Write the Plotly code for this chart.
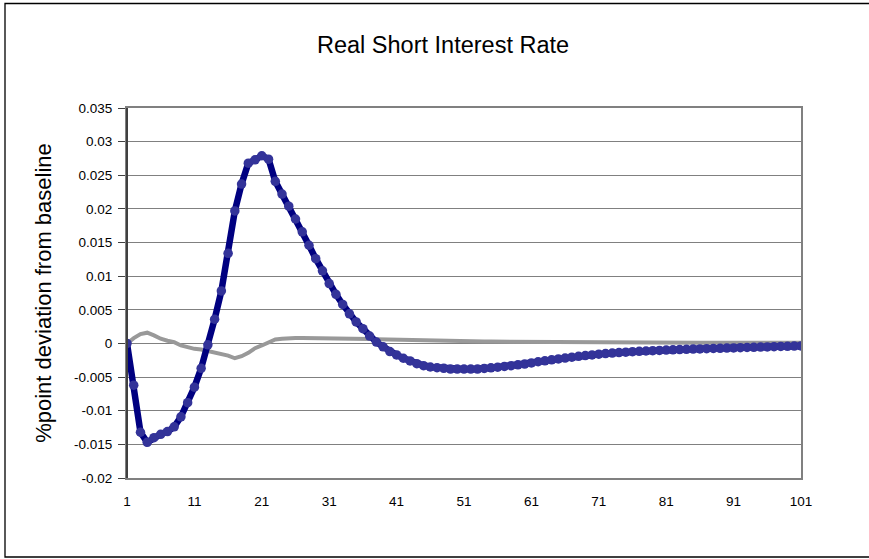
import plotly.graph_objects as go

periods = list(range(1, 102))

real_rate_main = [
    0.0, -0.0062, -0.0132, -0.0147, -0.0140, -0.0135, -0.0131, -0.0124, -0.0109, -0.0088,
    -0.0065, -0.0037, -0.0002, 0.0036, 0.0078, 0.0134, 0.0197, 0.0237, 0.0268, 0.0273,
    0.0279, 0.0274, 0.0241, 0.0222, 0.0204, 0.0185, 0.0166, 0.0146, 0.0126, 0.0108,
    0.0089, 0.0073, 0.0058, 0.0044, 0.0032, 0.0022, 0.0011, 0.0002, -0.0005, -0.0012,
    -0.0017, -0.0022, -0.0026, -0.0030, -0.0033, -0.0035, -0.0036, -0.0037, -0.0038, -0.0038,
    -0.0038, -0.0038, -0.0038, -0.00372, -0.00362, -0.00352, -0.00342, -0.00330, -0.00318, -0.00306,
    -0.0029, -0.00272, -0.00258, -0.00244, -0.0023, -0.00217, -0.00204, -0.00191, -0.0018, -0.0017,
    -0.0016, -0.00151, -0.00143, -0.00136, -0.00129, -0.00123, -0.00117, -0.00112, -0.00107, -0.00103,
    -0.00099, -0.00095, -0.00091, -0.00087, -0.00084, -0.00081, -0.00078, -0.00075, -0.00072, -0.00069,
    -0.00066, -0.00063, -0.0006, -0.00057, -0.00054, -0.00051, -0.00048, -0.00045, -0.00042, -0.00039,
    -0.00036,
]

real_rate_alt = [
    0.0, 0.0008, 0.0014, 0.0016, 0.0012, 0.0007, 0.0004, 0.0002, -0.0003, -0.0006,
    -0.0008, -0.0009, -0.0011, -0.0013, -0.0015, -0.0018, -0.0022, -0.0019, -0.0014, -0.0007,
    -0.0003, 0.0002, 0.0006, 0.0007, 0.0008, 0.0008, 0.0008, 0.0008, 0.0008, 0.0008,
    0.00078, 0.00076, 0.00074, 0.00072, 0.0007, 0.00068, 0.00066, 0.00063, 0.0006, 0.00057,
    0.00054, 0.00051, 0.00048, 0.00046, 0.00044, 0.00042, 0.0004, 0.00038, 0.00036, 0.00034,
    0.00032, 0.00031, 0.0003, 0.00029, 0.00028, 0.00027, 0.00026, 0.00025, 0.00024, 0.00023,
    0.00022, 0.00021, 0.0002, 0.0002, 0.00019, 0.00018, 0.00018, 0.00017, 0.00016, 0.00016,
    0.00015, 0.00015, 0.00014, 0.00014, 0.00013, 0.00013, 0.00012, 0.00012, 0.00012, 0.00011,
    0.00011, 0.00011, 0.0001, 0.0001, 0.0001, 0.0001, 0.0001, 0.0001, 0.0001, 0.0001,
    0.0001, 0.0001, 0.0001, 0.0001, 0.0001, 0.0001, 0.0001, 0.0001, 0.0001, 0.0001,
    0.0001,
]

x_tick_vals = [1, 11, 21, 31, 41, 51, 61, 71, 81, 91, 101]
y_tick_vals = [0.035, 0.03, 0.025, 0.02, 0.015, 0.01, 0.005, 0, -0.005, -0.01, -0.015, -0.02]
y_tick_text = ["0.035", "0.03", "0.025", "0.02", "0.015", "0.01", "0.005", "0",
               "-0.005", "-0.01", "-0.015", "-0.02"]

FONT = "Liberation Sans, Arial, sans-serif"

fig = go.Figure()
fig.add_trace(go.Scatter(
    x=periods, y=real_rate_alt, mode="lines",
    line=dict(color="#999999", width=4), showlegend=False,
))
fig.add_trace(go.Scatter(
    x=periods, y=real_rate_main, mode="lines+markers",
    line=dict(color="#000080", width=6.5),
    marker=dict(color="#333399", size=9.5, line=dict(width=0)),
    showlegend=False,
))

L, R, T, B = 127, 68, 108, 81
W, H = 869, 559
pw, ph = W - L - R, H - T - B

def px(xp):
    return (xp - L) / pw

def py(yp):
    return (H - B - yp) / ph

fig.update_layout(
    width=W, height=H,
    margin=dict(l=L, r=R, t=T, b=B, pad=0),
    paper_bgcolor="white", plot_bgcolor="white",
    font=dict(family=FONT, color="black", size=13),
    xaxis=dict(
        range=[1, 101], tickvals=x_tick_vals, ticks="", showgrid=False,
        zeroline=False, showline=True, mirror=True, linecolor="#808080", linewidth=2,
        tickfont=dict(size=13.5), ticklabelstandoff=10,
    ),
    yaxis=dict(
        range=[-0.02, 0.035], tickvals=y_tick_vals, ticktext=y_tick_text,
        ticks="outside", ticklen=7, tickcolor="#404040", tickwidth=1,
        showgrid=True, gridcolor="#808080", gridwidth=1,
        zeroline=False, showline=True, mirror=True, linecolor="#808080", linewidth=2,
        tickfont=dict(size=13.5), ticklabelstandoff=3,
        title=dict(text="%point deviation from baseline", font=dict(size=22), standoff=16),
    ),
    shapes=[
        dict(type="rect", xref="paper", yref="paper",
             x0=px(5), x1=px(880), y0=py(557), y1=py(3.5),
             line=dict(color="black", width=1.3), layer="below"),
        dict(type="line", xref="paper", yref="paper",
             x0=0, x1=0, y0=0, y1=1, line=dict(color="#404040", width=2), layer="above"),
    ],
    annotations=[
        dict(text="Real Short Interest Rate", xref="paper", yref="paper",
             x=px(442.5), y=py(45), xanchor="center", yanchor="middle",
             showarrow=False, font=dict(size=23.5, color="black")),
    ],
)

fig.write_html(
    "out.html",
    config={"displayModeBar": False},
    post_script="document.body.style.margin='0';document.body.style.padding='0';",
)
